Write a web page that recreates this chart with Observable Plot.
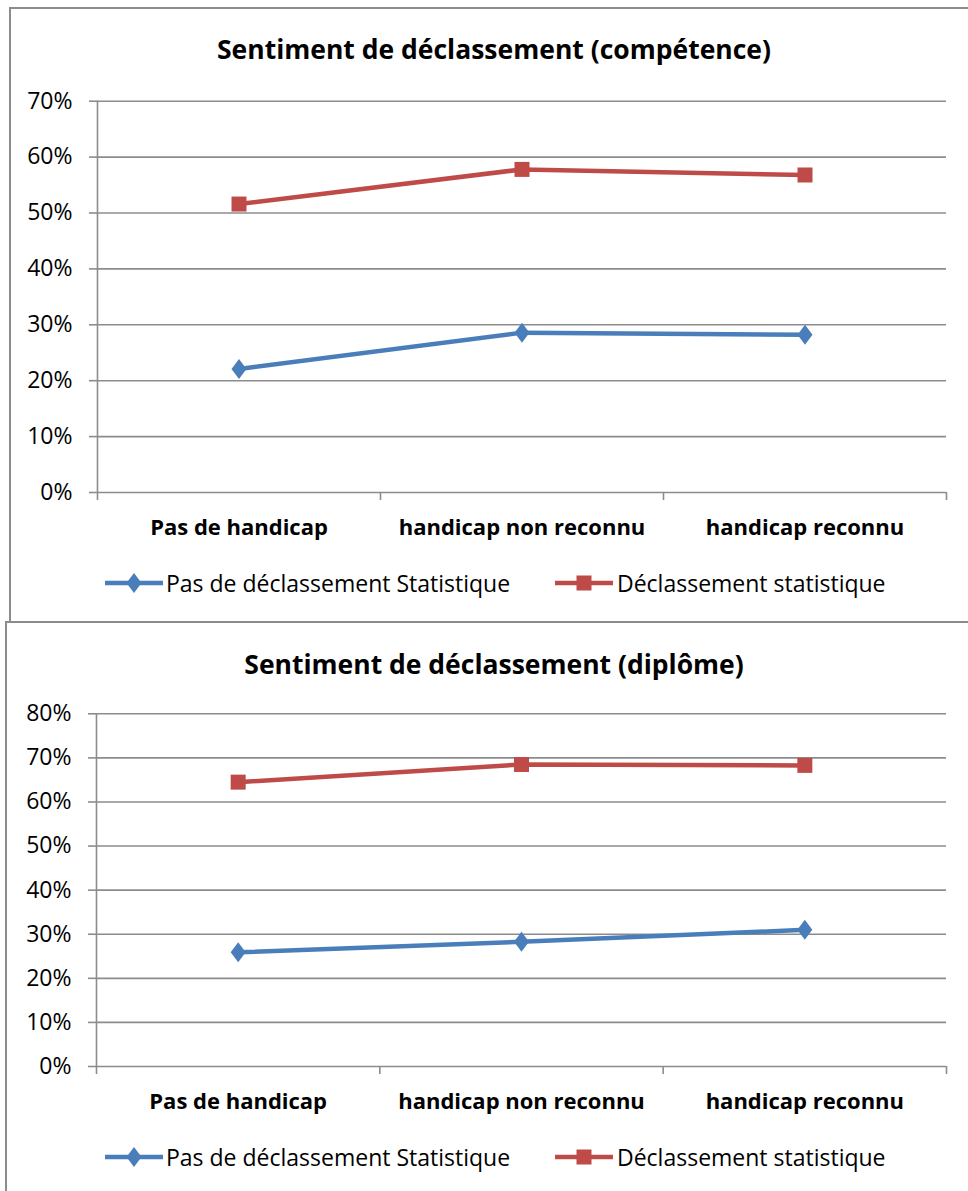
<!DOCTYPE html>
<html>
<head>
<meta charset="utf-8">
<script src="https://cdn.jsdelivr.net/npm/d3@7"></script>
<script src="https://cdn.jsdelivr.net/npm/@observablehq/plot@0.6"></script>
<style>
  html, body { margin: 0; padding: 0; background: #fff; }
  #root { position: relative; width: 968px; height: 1191px; overflow: hidden; font-family: "Open Sans", sans-serif; color: #000; }
  .frame { position: absolute; border: 2px solid #8c8c8c; border-right: none; box-sizing: border-box; }
  .title { position: absolute; left: 0; width: 988px; text-align: center; font-weight: bold; font-size: 26.5px; line-height: 1; }
  .leg { position: absolute; display: flex; align-items: center; font-size: 23px; white-space: nowrap; }
  .leg svg { display: block; }
</style>
</head>
<body>
<div id="root"></div>
<script>
// ---- data ----
const categories = ["Pas de handicap", "handicap non reconnu", "handicap reconnu"];
const seriesNames = ["Pas de déclassement Statistique", "Déclassement statistique"];
const seriesColors = ["#4a7ebb", "#be4b48"];
const competenceBlue = [0.221, 0.286, 0.282];
const competenceRed  = [0.516, 0.578, 0.568];
const diplomeBlue    = [0.259, 0.283, 0.310];
const diplomeRed     = [0.645, 0.685, 0.683];
const yTicksCompetence = [0, 0.1, 0.2, 0.3, 0.4, 0.5, 0.6, 0.7];
const yTicksDiplome    = [0, 0.1, 0.2, 0.3, 0.4, 0.5, 0.6, 0.7, 0.8];
const titles = ["Sentiment de déclassement (compétence)", "Sentiment de déclassement (diplôme)"];

// ---- symbols ----
const diamond = { draw(ctx, size) { const r = Math.sqrt(size / Math.PI); const w = r * 0.75; ctx.moveTo(0, -r); ctx.lineTo(w, 0); ctx.lineTo(0, r); ctx.lineTo(-w, 0); ctx.closePath(); } };
const square  = { draw(ctx, size) { const r = Math.sqrt(size / Math.PI) * 0.75; ctx.rect(-r, -r, 2 * r, 2 * r); } };
const symbols = [diamond, square];

const root = document.getElementById("root");

function buildChart(cfg) {
  const { frameLeft, frameTop, frameHeight, title, titleY, blue, red, yTicks, svgTop, svgHeight, yTopPx, yZeroPx, axisLeft, catY, legY } = cfg;
  const frame = document.createElement("div");
  frame.className = "frame";
  Object.assign(frame.style, { left: frameLeft + "px", top: frameTop + "px", width: (1000 - frameLeft) + "px", height: frameHeight + "px" });
  root.appendChild(frame);

  const t = document.createElement("div");
  t.className = "title";
  t.textContent = title;
  t.style.top = (titleY - 14) + "px";
  root.appendChild(t);

  const rows = [];
  [blue, red].forEach((vals, s) => vals.forEach((v, i) => rows.push({ series: seriesNames[s], s, cat: categories[i], i, v })));

  const yMax = yTicks[yTicks.length - 1];
  const bounds = d3.range(categories.length + 1);

  const svg = Plot.plot({
    width: 968,
    height: svgHeight,
    marginLeft: axisLeft,
    marginRight: 968 - 946,
    marginTop: yTopPx - svgTop,
    marginBottom: svgTop + svgHeight - yZeroPx,
    style: { fontFamily: "'Open Sans', sans-serif", fontSize: "23px", color: "#000", background: "transparent", overflow: "visible" },
    x: { domain: [0, categories.length], label: null },
    y: { domain: [0, yMax], label: null },
    marks: [
      Plot.gridY(yTicks, { stroke: "#8c8c8c", strokeOpacity: 1, strokeWidth: 1.6 }),
      Plot.axisY(yTicks, { label: null, tickFormat: d3.format(".0%"), tickSize: 8, tickPadding: 17, stroke: "#8c8c8c", strokeWidth: 1.6, fill: "#000", fontSize: 23 }),
      Plot.ruleX([0], { stroke: "#8c8c8c", strokeWidth: 1.6 }),
      Plot.axisX(bounds, { label: null, tickSize: 8, tickFormat: () => "", stroke: "#8c8c8c", strokeWidth: 1.6 }),
      Plot.text(categories, { x: (d, i) => i + 0.5, y: 0, dy: catY - yZeroPx, lineAnchor: "middle", fontWeight: "bold", fontSize: 22, fill: "#000" }),
      Plot.line(rows, { x: d => d.i + 0.5, y: "v", z: "series", stroke: d => seriesColors[d.s], strokeWidth: 4.5, curve: "linear" }),
      Plot.dot(rows.filter(d => d.s === 0), { x: d => d.i + 0.5, y: "v", r: 10, symbol: () => diamond, fill: seriesColors[0], stroke: "none" }),
      Plot.dot(rows.filter(d => d.s === 1), { x: d => d.i + 0.5, y: "v", r: 10, symbol: () => square, fill: seriesColors[1], stroke: "none" })
    ]
  });
  svg.style.position = "absolute";
  svg.style.left = "0px";
  svg.style.top = svgTop + "px";
  root.appendChild(svg);

  // legend
  const legPos = [{ x: 105, tx: 166 }, { x: 555, tx: 617 }];
  seriesNames.forEach((name, s) => {
    const item = document.createElement("div");
    item.className = "leg";
    item.style.left = legPos[s].x + "px";
    item.style.top = (legY - 15) + "px";
    item.style.height = "30px";
    const ns = "http://www.w3.org/2000/svg";
    const sv = document.createElementNS(ns, "svg");
    sv.setAttribute("width", legPos[s].tx - legPos[s].x);
    sv.setAttribute("height", 30);
    const ln = document.createElementNS(ns, "line");
    ln.setAttribute("x1", 0); ln.setAttribute("x2", 58); ln.setAttribute("y1", 15); ln.setAttribute("y2", 15);
    ln.setAttribute("stroke", seriesColors[s]); ln.setAttribute("stroke-width", 4.5);
    sv.appendChild(ln);
    const p = document.createElementNS(ns, "path");
    const path = d3.path();
    symbols[s].draw(path, Math.PI * 100);
    p.setAttribute("d", path.toString());
    p.setAttribute("transform", "translate(29,15)");
    p.setAttribute("fill", seriesColors[s]);
    sv.appendChild(p);
    item.appendChild(sv);
    const span = document.createElement("span");
    span.textContent = name;
    item.appendChild(span);
    root.appendChild(item);
  });
}

buildChart({
  frameLeft: 9, frameTop: 7, frameHeight: 616,
  title: titles[0], titleY: 50,
  blue: competenceBlue, red: competenceRed, yTicks: yTicksCompetence,
  svgTop: 80, svgHeight: 470, yTopPx: 100.7, yZeroPx: 492, axisLeft: 97,
  catY: 527, legY: 583
});
buildChart({
  frameLeft: 5, frameTop: 621, frameHeight: 600,
  title: titles[1], titleY: 665,
  blue: diplomeBlue, red: diplomeRed, yTicks: yTicksDiplome,
  svgTop: 690, svgHeight: 430, yTopPx: 713.3, yZeroPx: 1066, axisLeft: 96,
  catY: 1101, legY: 1157
});
</script>
</body>
</html>
